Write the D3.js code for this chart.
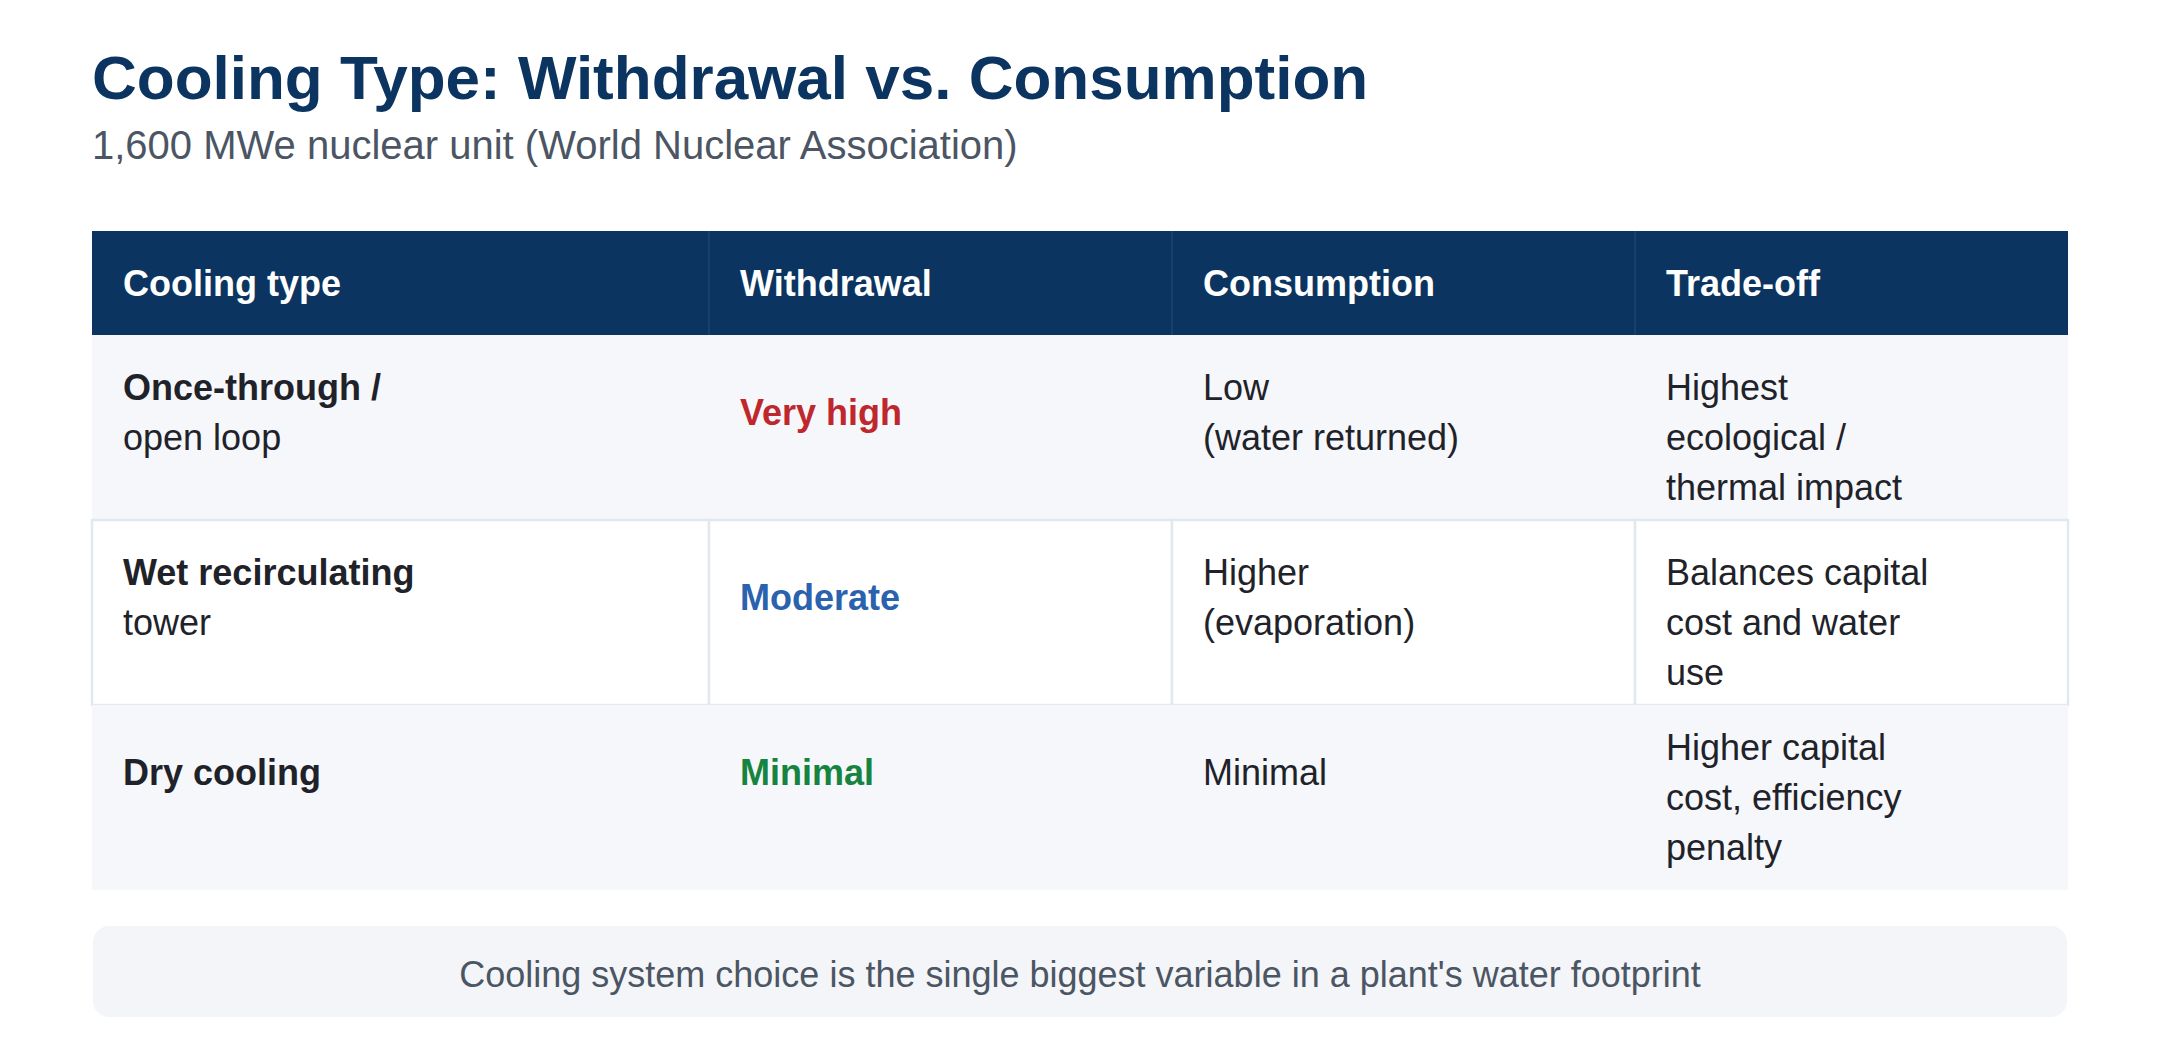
<!DOCTYPE html>
<html>
<head>
<meta charset="utf-8">
<script src="https://cdn.jsdelivr.net/npm/d3@7"></script>
<style>
  body { margin: 0; background: #fff; }
  svg { font-family: "Liberation Sans", Arial, sans-serif; }
</style>
</head>
<body>
<div id="chart"></div>
<script>
// data
const title = "Cooling Type: Withdrawal vs. Consumption";
const subtitle = "1,600 MWe nuclear unit (World Nuclear Association)";
const columns = ["Cooling type", "Withdrawal", "Consumption", "Trade-off"];
const coolingTypes = [["Once-through /", "open loop"], ["Wet recirculating", "tower"], ["Dry cooling"]];
const withdrawal = ["Very high", "Moderate", "Minimal"];
const withdrawalLevel = ["high", "mid", "low"];
const consumption = [["Low", "(water returned)"], ["Higher", "(evaporation)"], ["Minimal"]];
const tradeoffs = [["Highest", "ecological /", "thermal impact"], ["Balances capital", "cost and water", "use"], ["Higher capital", "cost, efficiency", "penalty"]];
const footnote = "Cooling system choice is the single biggest variable in a plant's water footprint";

const W = 2160, H = 1049;
const navy = "#0b3560";
const levelColor = { high: "#c0272d", mid: "#2b62ad", low: "#16843f" };

const svg = d3.select("#chart").append("svg").attr("width", W).attr("height", H);

svg.append("text").attr("x", 92).attr("y", 99)
  .attr("font-size", 62).attr("font-weight", "bold").attr("fill", navy).text(title);
svg.append("text").attr("x", 92).attr("y", 159)
  .attr("font-size", 40).attr("fill", "#4b5563").text(subtitle);

// table geometry
const x = d3.scaleOrdinal().domain(columns).range([92, 709, 1172, 1635]);
const tableRight = 2068;
const colW = c => { const i = columns.indexOf(c); return (i < 3 ? x(columns[i + 1]) : tableRight) - x(c); };
const headTop = 231, headH = 104, rowH = 185;
const y = d3.scaleBand().domain(d3.range(3)).range([headTop + headH, headTop + headH + 3 * rowH]);
const pad = 31, fs = 36, lh = 50;

// header
svg.append("rect").attr("x", 92).attr("y", headTop).attr("width", tableRight - 92).attr("height", headH).attr("fill", navy);
columns.forEach((c, i) => {
  if (i > 0) svg.append("line").attr("x1", x(c)).attr("x2", x(c)).attr("y1", headTop).attr("y2", headTop + headH)
    .attr("stroke", "#1d4670").attr("stroke-width", 1.5);
  svg.append("text").attr("x", x(c) + pad).attr("y", headTop + headH / 2 + fs * 0.35)
    .attr("font-size", fs).attr("font-weight", "bold").attr("fill", "#fff").text(c);
});

// rows
const rows = d3.range(3).map(i => [
  { lines: coolingTypes[i], boldFirst: true },
  { lines: [withdrawal[i]], color: levelColor[withdrawalLevel[i]], bold: true },
  { lines: consumption[i] },
  { lines: tradeoffs[i] }
]);
const baseOffset = [77, 77, 67]; // centre of the shorter cells within each row

rows.forEach((cells, r) => {
  const top = y(r);
  const striped = r !== 1;
  columns.forEach((c, ci) => {
    svg.append("rect").attr("x", x(c)).attr("y", top).attr("width", colW(c)).attr("height", rowH)
      .attr("fill", striped ? "#f5f7fb" : "#fff")
      .attr("stroke", striped ? "none" : "#e2e8f0").attr("stroke-width", 2.5);
  });
  cells.forEach((cell, ci) => {
    const n = cell.lines.length;
    const center = top + baseOffset[r] + (n === 3 ? 25 : 0);
    const first = center - (n - 1) * lh / 2;
    cell.lines.forEach((ln, li) => {
      svg.append("text").attr("x", x(columns[ci]) + pad).attr("y", first + li * lh + fs * 0.35)
        .attr("font-size", fs)
        .attr("font-weight", (cell.bold || (cell.boldFirst && li === 0)) ? "bold" : "normal")
        .attr("fill", cell.color || "#1f2329").text(ln);
    });
  });
});

// footnote
svg.append("rect").attr("x", 93).attr("y", 926).attr("width", 1974).attr("height", 91).attr("rx", 16)
  .attr("fill", "#f3f5f9");
svg.append("text").attr("x", 1080).attr("y", 974 + 36 * 0.35).attr("text-anchor", "middle")
  .attr("font-size", 36).attr("fill", "#4b5563").text(footnote);
</script>
</body>
</html>
